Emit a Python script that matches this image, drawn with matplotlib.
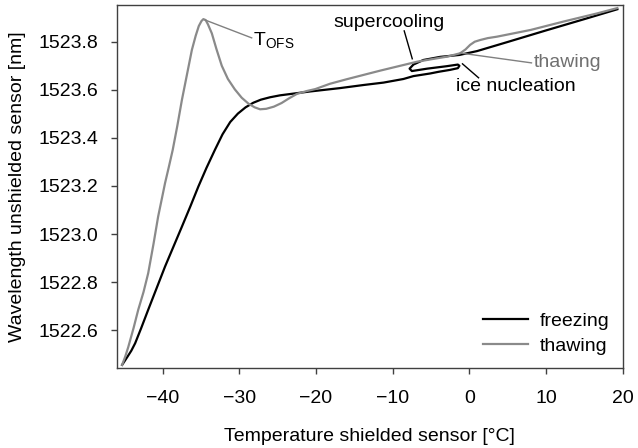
import matplotlib
matplotlib.use("Agg")
import matplotlib.pyplot as plt

# freezing run (temperature falling)
freeze_temp = [19.3, 15.0, 10.0, 5.0, 1.0, -1.3, -3.8, -6.0, -7.3, -7.8, -7.5,
               -5.5, -3.0, -1.5, -1.3, -1.5, -2.5, -4.0, -5.1, -7.3, -8.6, -11.2,
               -13.8, -16.9, -20.8, -23.0, -24.7, -26.0, -27.2, -28.2, -29.2,
               -30.2, -31.2, -32.2, -33.2, -34.3, -35.35, -36.4, -37.5, -38.6,
               -39.7, -40.8, -41.9, -42.8, -43.6, -44.1, -44.6, -45.3]
freeze_wl = [1523.935, 1523.894, 1523.847, 1523.799, 1523.761, 1523.745, 1523.737,
             1523.724, 1523.705, 1523.688, 1523.678, 1523.688, 1523.698, 1523.705,
             1523.700, 1523.690, 1523.683, 1523.675, 1523.668, 1523.657, 1523.645,
             1523.630, 1523.620, 1523.607, 1523.593, 1523.584, 1523.577, 1523.569,
             1523.559, 1523.546, 1523.527, 1523.501, 1523.466, 1523.415, 1523.350,
             1523.275, 1523.198, 1523.115, 1523.031, 1522.948, 1522.865, 1522.775,
             1522.685, 1522.610, 1522.546, 1522.515, 1522.490, 1522.456]

# thawing run (temperature rising)
thaw_temp = [-45.3, -44.9, -44.5, -43.8, -43.2, -42.5, -41.9, -41.2, -40.6, -40.1,
             -39.7, -39.2, -38.7, -38.1, -37.5, -36.8, -36.2, -35.7, -35.3, -34.95,
             -34.7, -34.4, -34.1, -33.6, -33.0, -32.3, -31.5, -30.6, -29.7, -28.8,
             -28.0, -27.3, -26.5, -25.5, -24.5, -23.5, -22.5, -21.2, -20.1, -18.2,
             -16.0, -13.8, -11.6, -9.4, -6.8, -4.8, -2.9, -1.2, -0.5, 0.1, 0.7, 1.4,
             2.4, 3.6, 5.8, 8.0, 12.3, 16.7, 19.3]
thaw_wl = [1522.456, 1522.490, 1522.530, 1522.610, 1522.685, 1522.760, 1522.837,
           1522.960, 1523.073, 1523.150, 1523.212, 1523.280, 1523.350, 1523.450,
           1523.558, 1523.670, 1523.766, 1523.825, 1523.865, 1523.886, 1523.894,
           1523.890, 1523.872, 1523.835, 1523.770, 1523.700, 1523.645, 1523.602,
           1523.567, 1523.542, 1523.527, 1523.519, 1523.521, 1523.530, 1523.545,
           1523.565, 1523.583, 1523.595, 1523.603, 1523.625, 1523.644, 1523.662,
           1523.680, 1523.697, 1523.717, 1523.728, 1523.738, 1523.752, 1523.768,
           1523.787, 1523.800, 1523.807, 1523.815, 1523.821, 1523.835, 1523.849,
           1523.884, 1523.918, 1523.940]

x_ticks = [-40, -30, -20, -10, 0, 10, 20]
y_ticks = [1522.6, 1522.8, 1523.0, 1523.2, 1523.4, 1523.6, 1523.8]

# leader lines for the labels: (start, end, colour)
leaders = [
    ((-34.45, 1523.890), (-28.4, 1523.816), "#808080"),
    ((-7.45, 1523.729), (-8.5, 1523.845), "black"),
    ((-1.2, 1523.753), (8.1, 1523.712), "#808080"),
    ((-0.9, 1523.708), (1.2, 1523.650), "black"),
]

plt.rcParams["font.family"] = ["Liberation Sans", "DejaVu Sans"]
plt.rcParams["font.size"] = 14

fig = plt.figure(figsize=(6.38, 4.48), dpi=100)
ax = fig.add_axes([0.183, 0.178, 0.793, 0.811])

grey = "#8a8a8a"
ax.plot(freeze_temp, freeze_wl, color="black", linewidth=1.6, label="freezing")
ax.plot(thaw_temp, thaw_wl, color=grey, linewidth=1.6, label="thawing")

for start, end, col in leaders:
    ax.plot([start[0], end[0]], [start[1], end[1]], color=col, linewidth=1.0)

# label texts
ax.text(-28.2, 1523.807, "$\\mathregular{T_{OFS}}$", ha="left", va="center", color="black")
ax.text(-10.45, 1523.882, "supercooling", ha="center", va="center", color="black")
ax.text(8.35, 1523.712, "thawing", ha="left", va="center", color="#707070")
ax.text(6.0, 1523.612, "ice nucleation", ha="center", va="center", color="black")

ax.set_xlim(-46, 20)
ax.set_ylim(1522.442, 1523.953)
ax.set_xticks(x_ticks)
ax.set_yticks(y_ticks)
ax.set_yticklabels([f"{v:.1f}" for v in y_ticks])
ax.set_xlabel("Temperature shielded sensor [°C]", labelpad=15)
ax.set_ylabel("Wavelength unshielded sensor [nm]", labelpad=9)

for sp in ax.spines.values():
    sp.set_color("#404040")
    sp.set_linewidth(1.0)
ax.tick_params(direction="out", length=4, width=1.0, color="#404040")
ax.tick_params(axis="x", pad=12)
ax.tick_params(axis="y", pad=9)

ax.legend(loc="lower right", frameon=False, handlelength=2.3, handletextpad=0.6,
          labelspacing=0.35, borderaxespad=0.3)

fig.savefig("out.png", dpi=100)
